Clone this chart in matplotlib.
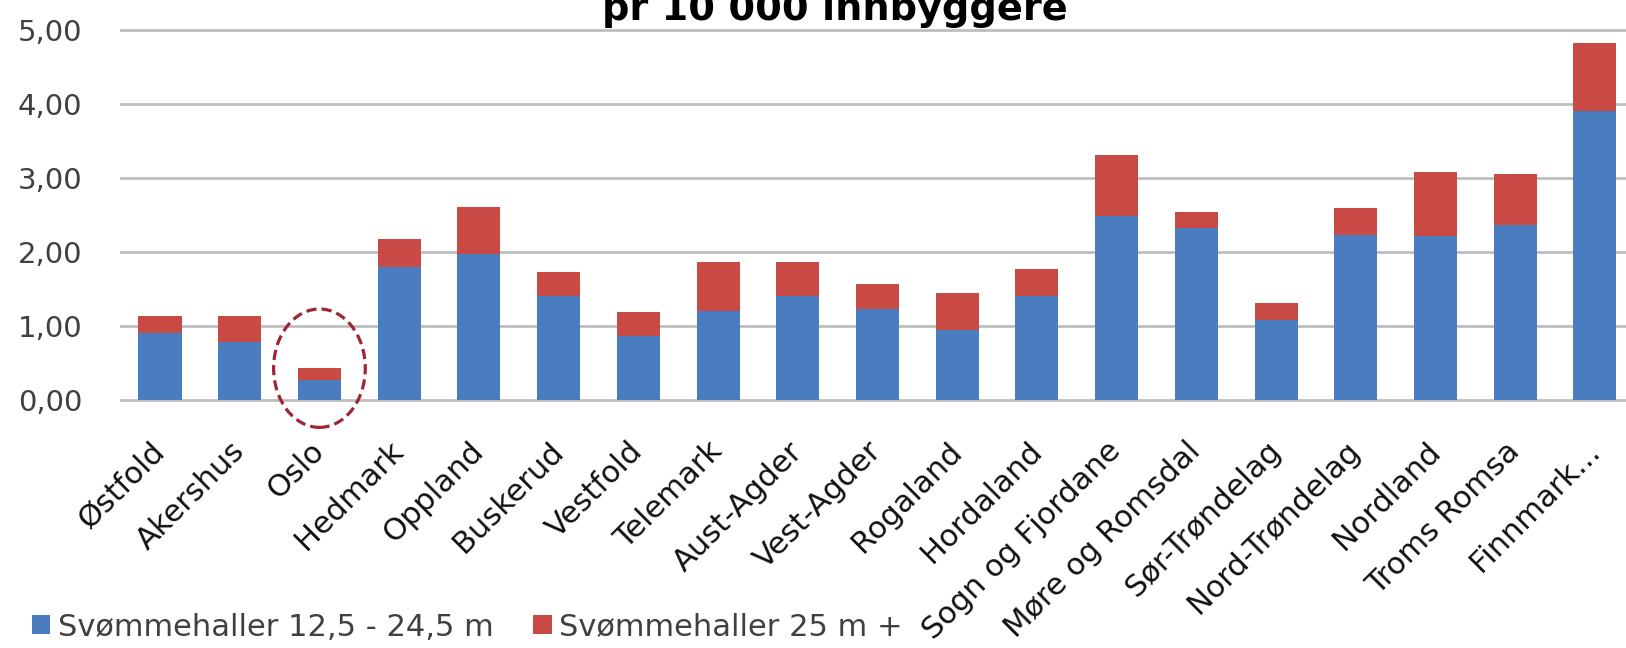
import matplotlib
matplotlib.use("Agg")
import matplotlib.pyplot as plt
from matplotlib.patches import Ellipse, Patch
import numpy as np

categories = ["Østfold", "Akershus", "Oslo", "Hedmark", "Oppland", "Buskerud",
              "Vestfold", "Telemark", "Aust-Agder", "Vest-Agder", "Rogaland",
              "Hordaland", "Sogn og Fjordane", "Møre og Romsdal", "Sør-Trøndelag",
              "Nord-Trøndelag", "Nordland", "Troms Romsa", "Finnmark..."]
small_halls = [0.90, 0.79, 0.27, 1.80, 1.97, 1.40, 0.86, 1.20, 1.40, 1.23, 0.95,
               1.40, 2.49, 2.32, 1.08, 2.23, 2.21, 2.36, 3.90]
large_halls = [0.23, 0.34, 0.16, 0.37, 0.64, 0.33, 0.33, 0.67, 0.46, 0.34, 0.49,
               0.37, 0.82, 0.22, 0.23, 0.36, 0.87, 0.69, 0.93]
series_names = ["Svømmehaller 12,5 - 24,5 m", "Svømmehaller 25 m +"]
y_ticks = [0, 1, 2, 3, 4, 5]
y_tick_labels = ["0,00", "1,00", "2,00", "3,00", "4,00", "5,00"]
title_text = "pr 10 000 innbyggere"
highlight = "Oslo"

BLUE = "#4A7CC0"
RED = "#C94A45"

W, H = 1626, 648
fig = plt.figure(figsize=(W / 100, H / 100), dpi=100)
plt.rcParams['font.family'] = ['DejaVu Sans']

ylo, yhi = -0.03, 5.05
ppu = 74.0
ax_bottom_px = 400 + (0 - ylo) * ppu
ax_top_px = 30 - (yhi - 5) * ppu
left_px = 120
ax = fig.add_axes([left_px / W, (H - ax_bottom_px) / H, (W - left_px) / W,
                   (ax_bottom_px - ax_top_px) / H])

x = np.arange(len(categories))
small = np.array(small_halls)
large = np.array(large_halls)
ax.bar(x, small, width=0.54, color=BLUE, zorder=3, label=series_names[0])
ax.bar(x, large, bottom=small, width=0.54, color=RED, zorder=3, label=series_names[1])

ax.set_xlim(-0.502, 18.39)
ax.set_ylim(ylo, yhi)
ax.set_yticks(y_ticks)
ax.set_yticklabels(y_tick_labels, fontsize=21, color="#404040")
ax.yaxis.grid(True, color="#BEBEBE", linewidth=2.0, zorder=0)
ax.set_axisbelow(True)
for s in ax.spines.values():
    s.set_visible(False)
ax.tick_params(axis='y', length=0, pad=27)
ax.tick_params(axis='x', length=0, pad=32)
ax.set_xticks(x)
ax.set_xticklabels(categories, rotation=45, ha='right', va='center',
                   rotation_mode='anchor', fontsize=22, color="#111111")

# highlight ellipse around Oslo
i = categories.index(highlight)
tot = small[i] + large[i]
ell = Ellipse((i, tot), width=1.15, height=1.6, fill=False, edgecolor="#9E2536",
              linewidth=2.3, linestyle=(0, (3.2, 1.6)), clip_on=False, zorder=5)
ax.add_patch(ell)

fig.text(835 / W, (H - 20) / H, title_text, fontsize=27.5, fontweight='bold',
         ha='center', va='baseline', color="black")

handles = [Patch(facecolor=BLUE), Patch(facecolor=RED)]
fig.legend(handles, series_names, loc='center left',
           bbox_to_anchor=(32 / W, (H - 627) / H), ncol=2, frameon=False,
           fontsize=22, handlelength=0.6, handleheight=0.6, handletextpad=0.25,
           columnspacing=1.3, borderpad=0, borderaxespad=0, labelcolor="#404040")

fig.savefig("out.png", dpi=100)
